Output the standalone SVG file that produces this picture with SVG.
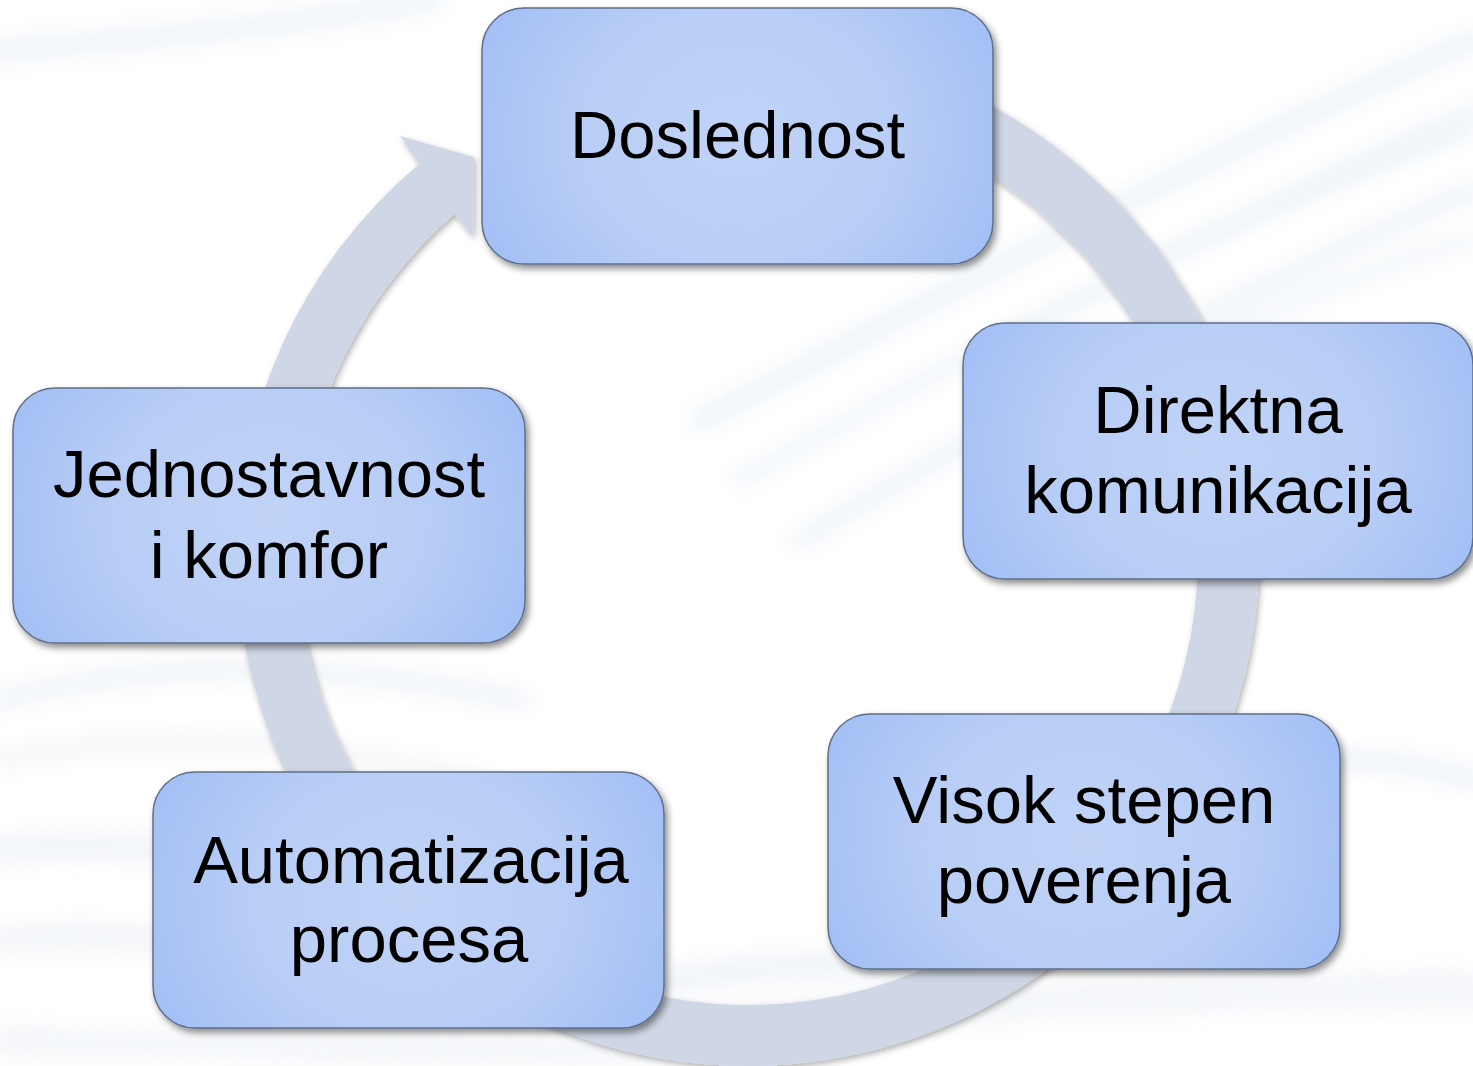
<svg xmlns="http://www.w3.org/2000/svg" width="1473" height="1066" viewBox="0 0 1473 1066">
<defs>
<style>
.box{fill:url(#boxGrad);stroke:#5f6f8a;stroke-width:1.5;filter:url(#shadow)}
.lbl{font-family:"Liberation Sans",Arial,sans-serif;font-size:67px;fill:#000;text-anchor:middle}
.ring{fill:#cfd6e5;filter:url(#shadowSoft)}
.streak{fill:none;stroke-linecap:round}
</style>
<radialGradient id="boxGrad" cx="0.5" cy="0.5" r="0.55" gradientTransform="translate(0.5 0.5) scale(1 1.7) translate(-0.5 -0.5)">
<stop offset="0" stop-color="#c0d3f7"/>
<stop offset="0.55" stop-color="#b9cef6"/>
<stop offset="1" stop-color="#a3bff5"/>
</radialGradient>
<filter id="shadow" x="-10%" y="-10%" width="125%" height="130%">
<feDropShadow dx="3" dy="4" stdDeviation="3.5" flood-color="#000" flood-opacity="0.45"/>
</filter>
<filter id="shadowSoft" x="-10%" y="-10%" width="125%" height="125%">
<feDropShadow dx="2" dy="3" stdDeviation="3" flood-color="#000" flood-opacity="0.3"/>
</filter>
<filter id="blur" x="-20%" y="-50%" width="140%" height="200%">
<feGaussianBlur stdDeviation="10"/>
</filter>
</defs>

<rect x="0" y="0" width="1473" height="1066" fill="#ffffff"/>

<g id="background" filter="url(#blur)" opacity="0.6">
<path class="streak" d="M700 420 C900 320 1150 180 1473 40" stroke="#e4ecf4" stroke-width="22"/>
<path class="streak" d="M740 480 C940 370 1180 240 1473 110" stroke="#e8eff6" stroke-width="18"/>
<path class="streak" d="M800 540 C1000 420 1240 290 1473 190" stroke="#e6edf5" stroke-width="20"/>
<path class="streak" d="M1000 340 C1180 250 1330 180 1473 130" stroke="#dfe8f2" stroke-width="12"/>
<path class="streak" d="M1050 420 C1220 330 1360 270 1473 240" stroke="#e9f0f6" stroke-width="16"/>
<path class="streak" d="M430 0 C330 20 150 40 0 50" stroke="#eaf0f6" stroke-width="28"/>
<path class="streak" d="M0 700 C150 660 320 660 520 700" stroke="#e8eef4" stroke-width="22"/>
<path class="streak" d="M0 760 C150 730 300 740 480 780" stroke="#eceff4" stroke-width="18"/>
<path class="streak" d="M0 850 C100 840 200 850 300 870" stroke="#e9eef4" stroke-width="28"/>
<path class="streak" d="M0 940 C100 930 200 940 300 960" stroke="#ebeff4" stroke-width="28"/>
<path class="streak" d="M1340 760 C1400 760 1440 770 1473 780" stroke="#e6edf5" stroke-width="22"/>
<path class="streak" d="M640 1040 C900 1000 1200 990 1473 990" stroke="#edf1f6" stroke-width="40"/>
<path class="streak" d="M0 1040 C200 1045 400 1050 640 1050" stroke="#edf1f6" stroke-width="30"/>
<path class="streak" d="M670 980 C800 960 900 960 1000 975" stroke="#e9eef5" stroke-width="30"/>
</g>

<g id="connectors">
<path class="ring" d="M836.7 51.8 A511 511 0 1 1 419.4 163.7 L400 136 L474 157 L473 237 L454.6 213.8 A450 450 0 1 0 826.1 111.8 Z"/>
</g>

<g id="node-doslednost">
<rect class="box" x="482" y="8" width="511" height="256" rx="42" ry="42"/>
<text class="lbl" x="737.5" y="158">Doslednost</text>
</g>

<g id="node-direktna">
<rect class="box" x="963" y="323" width="510" height="256" rx="42" ry="42"/>
<text class="lbl" x="1218" y="433">Direktna</text>
<text class="lbl" x="1218" y="513">komunikacija</text>
</g>

<g id="node-visok">
<rect class="box" x="828" y="714" width="512" height="255" rx="42" ry="42"/>
<text class="lbl" x="1084" y="823">Visok stepen</text>
<text class="lbl" x="1084" y="903">poverenja</text>
</g>

<g id="node-automatizacija">
<rect class="box" x="153" y="772" width="511" height="256" rx="42" ry="42"/>
<text class="lbl" x="411" y="883">Automatizacija</text>
<text class="lbl" x="409" y="962">procesa</text>
</g>

<g id="node-jednostavnost">
<rect class="box" x="13" y="388" width="512" height="255" rx="42" ry="42"/>
<text class="lbl" x="269" y="497">Jednostavnost</text>
<text class="lbl" x="269" y="578">i komfor</text>
</g>
</svg>
